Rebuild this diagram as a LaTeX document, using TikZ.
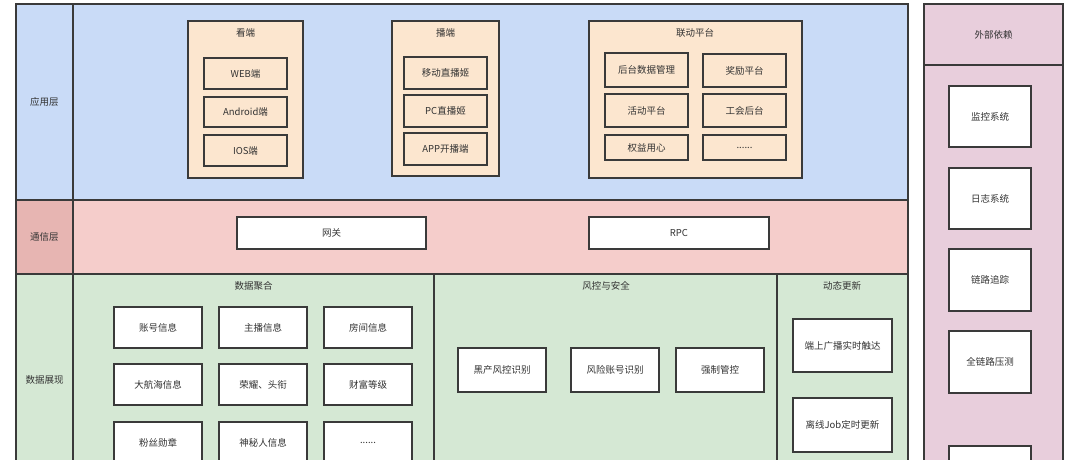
\documentclass[tikz,border=0pt]{standalone}
\usepackage{fontspec}
\setmainfont{Noto Sans CJK SC}
\usetikzlibrary{fit}
\definecolor{appblue}{HTML}{C9DBF7}
\definecolor{combody}{HTML}{F5CDCB}
\definecolor{comlab}{HTML}{E7B5B2}
\definecolor{datagreen}{HTML}{D5E8D4}
\definecolor{extpink}{HTML}{E8CEDC}
\definecolor{orangebox}{HTML}{FCE6CF}
\definecolor{linec}{HTML}{3A3A3A}
\definecolor{txt}{HTML}{333333}
\tikzset{
  area/.style={draw=linec, line width=1.1pt, inner sep=0pt, font=\fontsize{9.5}{11}\selectfont, text=txt},
  wbox/.style={area, fill=white},
  obox/.style={area, fill=orangebox},
  ttl/.style={font=\fontsize{9.5}{11}\selectfont, text=txt, inner sep=0pt},
}
\newcommand{\bx}[7]{\node[#6, fit={(#2,#3)(#4,#5)}] (#1) {}; \node[ttl] (#1-t) at (#1.center) {#7};}
\begin{document}
\begin{tikzpicture}[x=1pt,y=-1pt]
\useasboundingbox (0,0) rectangle (1080,459);
\clip (0,0) rectangle (1080,459);
% layers
\bx{appL}{16}{4}{73}{200}{area, fill=appblue}{应用层}
\bx{appB}{73}{4}{908}{200}{area, fill=appblue}{}
\bx{comL}{16}{200}{73}{274}{area, fill=comlab}{通信层}
\bx{comB}{73}{200}{908}{274}{area, fill=combody}{}
\bx{datL}{16}{274}{73}{486}{area, fill=datagreen}{数据展现}
\bx{agg}{73}{274}{434}{486}{area, fill=datagreen}{}
\bx{risk}{434}{274}{777}{486}{area, fill=datagreen}{}
\bx{dyn}{777}{274}{908}{486}{area, fill=datagreen}{}
\node[ttl] (aggT) at (253.5,286) {数据聚合};
\node[ttl] (riskT) at (606,286) {风控与安全};
\node[ttl] (dynT) at (842,286) {动态更新};
% external
\bx{extH}{924}{4}{1063}{65}{area, fill=extpink}{外部依赖}
\bx{extB}{924}{65}{1063}{486}{area, fill=extpink}{}
\bx{mon}{949}{86}{1031}{147}{wbox}{监控系统}
\bx{log}{949}{168}{1031}{229}{wbox}{日志系统}
\bx{trace}{949}{249}{1031}{311}{wbox}{链路追踪}
\bx{press}{949}{331}{1031}{393}{wbox}{全链路压测}
\bx{ext5}{949}{446}{1031}{507}{wbox}{}
% 看端
\bx{kan}{188}{21}{303}{178}{obox}{}
\node[ttl] (kanT) at (245.5,33) {看端};
\bx{web}{204}{58}{287}{89}{obox}{WEB端}
\bx{andr}{204}{97}{287}{127}{obox}{Android端}
\bx{ios}{204}{135}{287}{166}{obox}{IOS端}
% 播端
\bx{bo}{392}{21}{499}{176}{obox}{}
\node[ttl] (boT) at (445.5,33) {播端};
\bx{mob}{404}{57}{487}{89}{obox}{移动直播姬}
\bx{pc}{404}{95}{487}{127}{obox}{PC直播姬}
\bx{app}{404}{133}{487}{165}{obox}{APP开播端}
% 联动平台
\bx{lian}{589}{21}{802}{178}{obox}{}
\node[ttl] (lianT) at (695,33) {联动平台};
\bx{hou}{605}{53}{688}{87}{obox}{后台数据管理}
\bx{huo}{605}{94}{688}{127}{obox}{活动平台}
\bx{quan}{605}{135}{688}{160}{obox}{权益用心}
\bx{jiang}{703}{54}{786}{87}{obox}{奖励平台}
\bx{gong}{703}{94}{786}{127}{obox}{工会后台}
\bx{etc1}{703}{135}{786}{160}{obox}{......}
% 通信层
\bx{gw}{237}{217}{426}{249}{wbox}{网关}
\bx{rpc}{589}{217}{769}{249}{wbox}{RPC}
% 数据聚合
\bx{acc}{114}{307}{202}{348}{wbox}{账号信息}
\bx{anchor}{219}{307}{307}{348}{wbox}{主播信息}
\bx{room}{324}{307}{412}{348}{wbox}{房间信息}
\bx{dhh}{114}{364}{202}{405}{wbox}{大航海信息}
\bx{rong}{219}{364}{307}{405}{wbox}{荣耀、头衔}
\bx{cai}{324}{364}{412}{405}{wbox}{财富等级}
\bx{fans}{114}{422}{202}{463}{wbox}{粉丝勋章}
\bx{mys}{219}{422}{307}{463}{wbox}{神秘人信息}
\bx{etc2}{324}{422}{412}{463}{wbox}{......}
% 风控
\bx{hei}{458}{348}{546}{392}{wbox}{黑产风控识别}
\bx{fx}{571}{348}{659}{392}{wbox}{风险账号识别}
\bx{qz}{676}{348}{764}{392}{wbox}{强制管控}
% 动态更新
\bx{bc}{793}{319}{892}{372}{wbox}{端上广播实时触达}
\bx{job}{793}{398}{892}{452}{wbox}{离线Job定时更新}
\end{tikzpicture}
\end{document}
